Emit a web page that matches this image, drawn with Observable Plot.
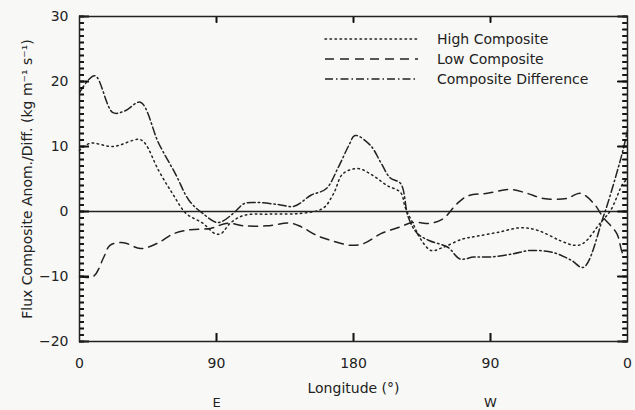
<!DOCTYPE html>
<html>
<head>
<meta charset="utf-8">
<script src="https://cdn.jsdelivr.net/npm/d3@7"></script>
<script src="https://cdn.jsdelivr.net/npm/@observablehq/plot@0.6"></script>
<style>
  html, body { margin: 0; padding: 0; background: #f8f8f6; }
  #chart { width: 635px; height: 410px; }
</style>
</head>
<body>
<div id="chart"></div>
<script>
// Longitude 0..360 (0 -> 180E -> 0), values in kg m^-1 s^-1
const highLon = [0, 7, 22, 39, 43, 52, 61, 70, 81, 89, 93, 99, 108, 125, 145, 160, 167, 173, 183, 193, 202, 211, 214, 219, 224, 231, 239, 252, 261, 275, 290, 301, 316, 325, 331, 342, 349, 357, 360];
const highVal = [9.4, 10.5, 10, 11.1, 10.5, 6.3, 2.8, -0.3, -1.8, -3.4, -3.4, -1.8, -0.6, -0.4, -0.3, 0.5, 2.8, 5.8, 6.6, 5.5, 4, 2.9, 0.6, -1.8, -4.2, -6, -5.5, -4.2, -3.8, -3.2, -2.5, -2.9, -4.5, -5.2, -4.9, -1.8, 0.2, 4.3, 5];

const lowLon = [0, 9, 16, 20, 29, 40, 51, 62, 73, 86, 97, 108, 123, 139, 146, 156, 166, 178, 187, 198, 209, 219, 231, 239, 248, 255, 268, 283, 294, 305, 320, 329, 338, 344, 353, 357, 360];
const lowVal = [-10, -10, -7, -5.2, -4.8, -5.7, -4.9, -3.4, -2.8, -2.6, -1.8, -2.2, -2.2, -1.8, -2.4, -3.7, -4.5, -5.2, -4.9, -3.4, -2.5, -1.7, -1.8, -1.1, 1.2, 2.4, 2.8, 3.4, 2.8, 2, 2, 2.8, 1.2, -0.9, -3.4, -6.5, -7];

const diffLon = [0, 10, 22, 30, 40, 52, 63, 72, 81, 91, 101, 108, 115, 130, 141, 152, 162, 170, 177, 181, 191, 198, 204, 211, 216, 222, 230, 242, 250, 259, 270, 285, 296, 311, 323, 331, 344, 354, 357, 360];
const diffVal = [18.3, 20.9, 15.2, 15.5, 16.8, 10.5, 5.8, 1.7, -0.3, -1.7, -0.3, 1.2, 1.4, 1.1, 0.8, 2.5, 3.5, 6.8, 10.2, 11.7, 10.2, 7.5, 5.2, 4.3, -0.9, -3.4, -4.5, -5.5, -7.3, -7, -7, -6.5, -6, -6.3, -7.5, -8.6, -0.9, 6.8, 9.4, 12.5];

const xTicks = [0, 90, 180, 270, 360];
const xTickLabels = ["0", "90", "180", "90", "0"];
const xInnerTicks = [90, 180, 270];
const yTicks = [-20, -10, 0, 10, 20, 30];
const yMinorTicks = d3.range(-20, 31, 1);
const hemiLon = [90, 270];
const hemiLabels = ["E", "W"];

const seriesNames = ["High Composite", "Low Composite", "Composite Difference"];
const dashes = ["1.5,3.5", "9,6", "8,3,1.5,3"];

const toRows = (lon, val) => lon.map((x, i) => ({x, y: val[i]}));
const high = toRows(highLon, highVal);
const low = toRows(lowLon, lowVal);
const diff = toRows(diffLon, diffVal);

const W = 635, H = 410, mL = 79, mR = 8, mT = 16, mB = 69;
const pw = W - mL - mR, ph = H - mT - mB;

const ink = "#222";
const lineOpts = {x: "x", y: "y", stroke: ink, strokeWidth: 1.5, curve: "catmull-rom"};
const tk = {stroke: "#111", strokeWidth: 1.6};
const noText = () => "";

const chart = Plot.plot({
  width: W,
  height: H,
  marginLeft: mL,
  marginRight: mR,
  marginTop: mT,
  marginBottom: mB,
  style: {fontFamily: "DejaVu Sans", fontSize: "13px"},
  x: {domain: [0, 360]},
  y: {domain: [-20, 30]},
  marks: [
    Plot.ruleY([0], {stroke: ink, strokeWidth: 1.5}),
    Plot.line(high, {...lineOpts, strokeDasharray: dashes[0], strokeLinecap: "round"}),
    Plot.line(low, {...lineOpts, strokeDasharray: dashes[1]}),
    Plot.line(diff, {...lineOpts, strokeDasharray: dashes[2]}),
    // inward minor ticks, left & right
    Plot.tickY(yMinorTicks, {y: d => d, insetRight: pw - 5, ...tk}),
    Plot.tickY(yMinorTicks, {y: d => d, insetLeft: pw - 5, ...tk}),
    Plot.axisY(yMinorTicks, {anchor: "left", tickSize: -5, tickFormat: noText, label: null, ...tk}),
    Plot.axisY(yMinorTicks, {anchor: "right", tickSize: -5, tickFormat: noText, label: null, ...tk}),
    // inward major ticks
    Plot.tickY(yTicks, {y: d => d, insetRight: pw - 10, ...tk}),
    Plot.tickY(yTicks, {y: d => d, insetLeft: pw - 10, ...tk}),
    Plot.axisY(yTicks, {anchor: "left", tickSize: -10, tickFormat: noText, label: null, ...tk}),
    Plot.axisY(yTicks, {anchor: "right", tickSize: -10, tickFormat: noText, label: null, ...tk}),
    // x ticks bottom & top
    Plot.tickX(xInnerTicks, {x: d => d, insetTop: ph - 8, ...tk}),
    Plot.tickX(xInnerTicks, {x: d => d, insetBottom: ph - 6, ...tk}),
    Plot.axisX(xInnerTicks, {anchor: "bottom", tickSize: -8, tickFormat: noText, label: null, ...tk}),
    Plot.axisX(xInnerTicks, {anchor: "top", tickSize: -6, tickFormat: noText, label: null, ...tk}),
    // y labels
    Plot.axisY(yTicks, {anchor: "left", tickSize: 0, tickPadding: 11, fontSize: 14, fill: ink,
      tickFormat: d => d < 0 ? "\u2212" + Math.abs(d) : String(d),
      label: "Flux Composite Anom./Diff. (kg m\u207B\u00B9 s\u207B\u00B9)",
      labelAnchor: "center", labelArrow: "none", labelOffset: 57}),
    Plot.axisX(xTicks, {anchor: "bottom", tickSize: 0, tickPadding: 17, fontSize: 14, fill: ink,
      tickFormat: d => xTickLabels[xTicks.indexOf(d)],
      label: "Longitude (\u00B0)", labelAnchor: "center", labelArrow: "none", labelOffset: 51}),
    Plot.text(hemiLon, {x: d => d, text: (d, i) => hemiLabels[i], frameAnchor: "bottom", dy: 65, fontSize: 13, fill: ink}),
    Plot.frame({stroke: ink, strokeWidth: 1.5})
  ]
});

// Legend inside plot area (top right)
const svg = d3.select(chart);
const lg = svg.append("g").attr("class", "legend").attr("text-anchor", "start");
seriesNames.forEach((name, i) => {
  const yy = 39 + i * 20;
  lg.append("line")
    .attr("x1", 325).attr("x2", 418)
    .attr("y1", yy).attr("y2", yy)
    .attr("stroke", ink).attr("stroke-width", 1.5)
    .attr("stroke-linecap", i === 0 ? "round" : "butt")
    .attr("stroke-dasharray", dashes[i]);
  lg.append("text")
    .attr("x", 437).attr("y", yy + 4.5)
    .attr("text-anchor", "start")
    .attr("fill", ink)
    .attr("font-family", "DejaVu Sans")
    .attr("font-size", 14)
    .text(name);
});

document.getElementById("chart").appendChild(chart);
</script>
</body>
</html>
